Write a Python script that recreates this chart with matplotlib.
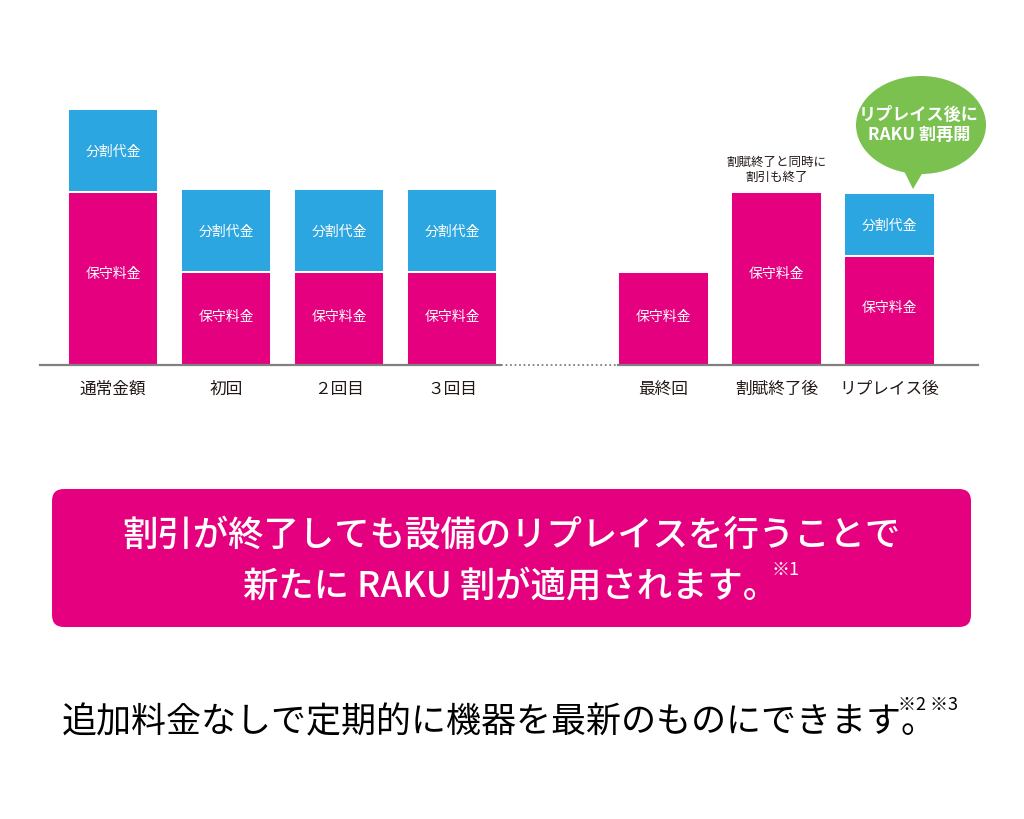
import matplotlib.pyplot as plt
import numpy as np
from matplotlib.patches import FancyBboxPatch, Ellipse, Polygon

plt.rcParams['font.family'] = ['Noto Sans CJK JP', 'DejaVu Sans']

# data (heights, in pixel-ish units)
categories = ["通常金額", "初回", "２回目", "３回目", "最終回", "割賦終了後", "リプレイス後"]
maintenance = [173, 93, 93, 93, 93, 173, 109]   # 保守料金
installment = [83, 83, 83, 83, 0, 0, 63]        # 分割代金

PINK = "#E4007F"
BLUE = "#2CA6E0"
GREEN = "#7AC14F"
DARK = "#231815"

W, H = 1024, 820
fig = plt.figure(figsize=(W / 100, H / 100), dpi=100)

# bar positions: one unit per slot, with a wider gap before 最終回
x = np.arange(len(categories), dtype=float)
x[4:] += 0.872
width = 0.805

# chart axes: x in slot units, y in pixels above the baseline
ax = fig.add_axes([0, 1 - 366 / H, 1, 366 / H])
ax.set_xlim(-1, (W - 113) / 113)
ax.set_ylim(0, 366)
for s in ax.spines.values():
    s.set_visible(False)
ax.set_yticks([])

ax.bar(x, maintenance, width, color=PINK, edgecolor="white", linewidth=1.4, zorder=2)
ax.bar(x, installment, width, bottom=maintenance, color=BLUE, edgecolor="white",
       linewidth=1.4, zorder=2)

for xi, m, b in zip(x, maintenance, installment):
    ax.text(xi, m * 0.53, "保守料金", color="white", fontsize=10, ha="center", va="center")
    if b > 0:
        ax.text(xi, m + b / 2, "分割代金", color="white", fontsize=10, ha="center", va="center")

# baseline: solid, dotted over the skipped months, solid
left = (40 - 113) / 113
right = (978 - 113) / 113
ax.plot([left, x[3] + width / 2 + 0.02], [0, 0], color="#808080", lw=1.6, clip_on=False, zorder=3)
ax.plot([x[3] + width / 2 + 0.03, x[4] - width / 2], [0, 0], color="#808080", lw=1.3,
        ls=(0, (1, 1.5)), clip_on=False, zorder=3)
ax.plot([x[4] - width / 2, right], [0, 0], color="#808080", lw=1.6, clip_on=False, zorder=3)

ax.set_xticks(x, categories, fontsize=12, color=DARK)
ax.tick_params(axis="x", length=0, pad=10.5)

ax.text(x[5], maintenance[5] + 23, "割賦終了と同時に\n割引も終了", fontsize=9, color=DARK,
        ha="center", va="center", linespacing=1.15)

# overlay for the callout, the pink box and the notes (pixel coordinates)
ov = fig.add_axes([0, 0, 1, 1], zorder=5)
ov.set_xlim(0, W)
ov.set_ylim(H, 0)
ov.axis("off")

ov.add_patch(Ellipse((921, 126), 130, 98, color=GREEN, lw=0))
ov.add_patch(Polygon([[902, 168], [926, 168], [913, 190]], closed=True, color=GREEN, lw=0))
ov.text(919, 125, "リプレイス後に\nRAKU 割再開", color="white", fontsize=12.3, fontweight="bold",
        ha="center", va="center", linespacing=1.1)

ov.add_patch(FancyBboxPatch((52 + 12, 490 + 12), 919 - 24, 138 - 24,
                            boxstyle="round,pad=12", color=PINK, lw=0))
ov.text(511, 536, "割引が終了しても設備のリプレイスを行うことで", color="white", fontsize=25.5,
        fontweight="medium", ha="center", va="center")
ov.text(511, 586, "新たに RAKU 割が適用されます。", color="white", fontsize=25.5,
        fontweight="medium", ha="center", va="center")
ov.text(771, 570, "※1", color="white", fontsize=13, ha="left", va="center")

ov.text(62, 722, "追加料金なしで定期的に機器を最新のものにできます。", color="black", fontsize=25.2,
        ha="left", va="center")
ov.text(898, 705, "※2 ※3", color="black", fontsize=13, ha="left", va="center")

fig.savefig("out.png", dpi=100, facecolor="white")
